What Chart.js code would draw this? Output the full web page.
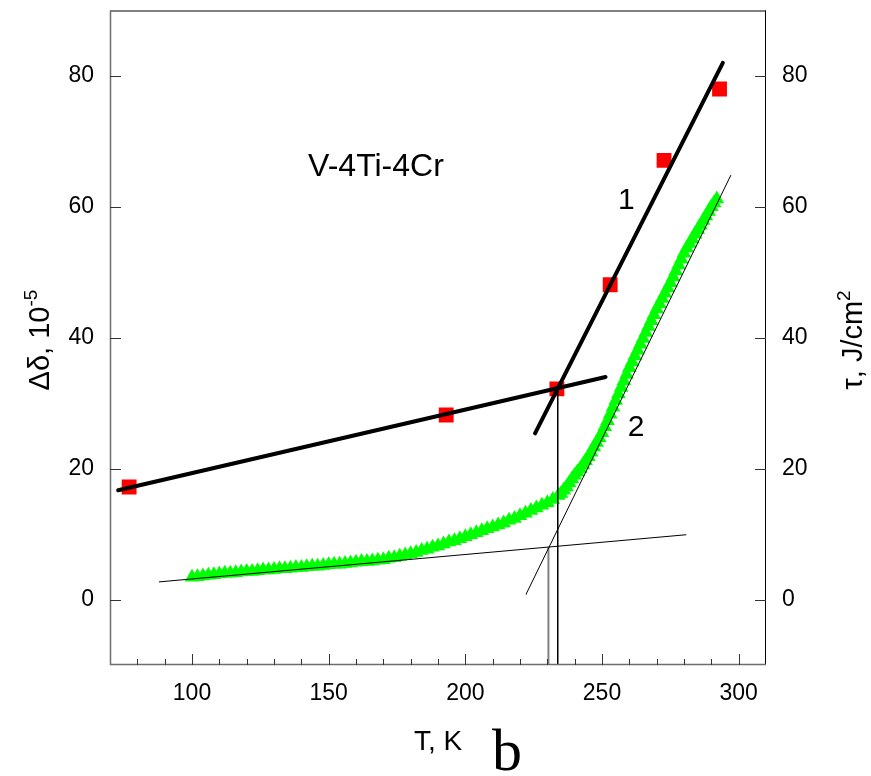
<!DOCTYPE html>
<html>
<head>
<meta charset="utf-8">
<script src="https://cdn.jsdelivr.net/npm/chart.js@4.4.0/dist/chart.umd.min.js"></script>
<style>
  html, body { margin: 0; padding: 0; background: #fff; }
</style>
</head>
<body>
<canvas id="myChart" width="871" height="776"></canvas>
<script>
// axis ticks
const xTicks = [100, 150, 200, 250, 300];
const yTicks = [0, 20, 40, 60, 80];

// red squares: delta-delta (10^-5) vs T
const sqT = [77, 193, 233.5, 253, 272.7, 293];
const sqD = [17.2, 28.2, 32.2, 48.1, 67.1, 78.0];

// green triangles: tau (J/cm2) vs T
const triT = [100,102,104,106,108,110,112,114,116,118,120,122,124,126,128,130,132,134,136,138,
  140,142,144,146,148,150,152,154,156,158,160,162,164,166,168,170,172,174,176,178,
  180,182,184,186,188,190,192,194,196,198,200,202,204,206,208,210,212,214,216,218,
  220,222,224,226,228,230,232,234,235,236,237,238,239,240,241,242,243,244,245,246,
  247,248,249,250,251,252,253,254,255,256,257,258,259,260,261,262,263,264,265,266,
  267,268,269,270,271,272,273,274,275,276,277,278,279,280,281,282,283,284,285,286,
  287,288,289,290,291,292];
const triTau = [3.4,3.5,3.6,3.7,3.8,3.9,4.0,4.0,4.1,4.2,4.3,4.3,4.4,4.5,4.5,4.6,4.7,4.7,4.8,4.9,
  4.9,5.0,5.1,5.1,5.2,5.3,5.4,5.4,5.5,5.6,5.7,5.8,5.8,5.9,6.0,6.1,6.3,6.4,6.6,6.8,
  7.0,7.2,7.5,7.7,8.0,8.2,8.5,8.8,9.0,9.3,9.6,9.9,10.2,10.5,10.8,11.1,11.4,11.7,12.1,12.4,
  12.8,13.2,13.6,14.0,14.4,14.8,15.3,15.9,16.2,16.7,17.2,17.8,18.4,19.0,19.5,20.0,20.6,21.2,21.8,22.5,
  23.3,24.0,24.7,25.5,26.4,27.3,28.3,29.4,30.4,31.4,32.4,33.4,34.4,35.4,36.3,37.2,38.1,39.0,39.9,40.8,
  41.7,42.6,43.5,44.4,45.2,46.0,46.8,47.6,48.4,49.3,50.2,51.1,52.0,52.9,53.7,54.4,55.1,55.8,56.5,57.2,
  57.9,58.6,59.3,60.0,60.6,61.2];

// fitted lines (end points)
const lowFitT = [73, 251.3];   const lowFitD = [16.7, 34.0];
const highFitT = [225.5, 294.2]; const highFitD = [25.4, 82.0];
const tauLowT = [88, 280.7];   const tauLowV = [2.7, 9.9];
const tauHighT = [222.2, 297.1]; const tauHighV = [0.8, 64.8];
// vertical markers
const vBlackT = [233.8, 233.8]; const vBlackV = [32.2, -10];
const vGrayT = [230.4, 230.4];  const vGrayV = [7.9, -10];

const toPts = (xs, ys) => xs.map((x, i) => ({x: x, y: ys[i]}));

const lineDs = (xs, ys, w, color) => ({
    data: toPts(xs, ys),
    showLine: true,
    borderColor: color,
    borderWidth: w,
    pointRadius: 0,
    borderCapStyle: 'round',
    order: 0
});

// axis titles, frame, inward tick marks, labels
const decor = {
    id: 'decor',
    afterDraw(chart) {
        const {ctx, chartArea: a, scales} = chart;
        const xs = scales.x, ys = scales.y;
        ctx.save();

        const seg = (x1, y1, x2, y2) => {
            ctx.beginPath(); ctx.moveTo(x1, y1); ctx.lineTo(x2, y2); ctx.stroke();
        };

        // frame
        ctx.lineWidth = 1;
        ctx.strokeStyle = '#000';
        seg(a.left, a.top + 0.5, a.right, a.top + 0.5);
        seg(a.right - 0.5, a.top, a.right - 0.5, a.bottom);
        ctx.strokeStyle = '#6e6e6e';
        ctx.lineWidth = 1.5;
        seg(a.left + 0.5, a.top, a.left + 0.5, a.bottom);
        seg(a.left, a.bottom - 0.5, a.right, a.bottom - 0.5);

        // x ticks (minor every 10, major every 50)
        ctx.strokeStyle = '#333';
        ctx.lineWidth = 1;
        for (let v = 80; v <= 300; v += 10) {
            const px = Math.round(xs.getPixelForValue(v)) + 0.5;
            const len = xTicks.includes(v) ? 11 : 6;
            seg(px, a.bottom, px, a.bottom - len);
        }
        // y ticks both sides
        yTicks.forEach(v => {
            const py = Math.round(ys.getPixelForValue(v)) + 0.5;
            seg(a.left, py, a.left + 11, py);
            seg(a.right, py, a.right - 11, py);
        });

        // text
        ctx.fillStyle = '#000';
        const supText = (base, sup, cx, cy, size, rot) => {
            ctx.save();
            ctx.translate(cx, cy);
            if (rot) ctx.rotate(-Math.PI / 2);
            ctx.font = size + 'px Arial, "Liberation Sans"';
            const w1 = ctx.measureText(base).width;
            const sSize = Math.round(size * 0.65);
            ctx.font = sSize + 'px Arial, "Liberation Sans"';
            const w2 = ctx.measureText(sup).width;
            const x0 = -(w1 + w2) / 2;
            ctx.textAlign = 'left';
            ctx.textBaseline = 'alphabetic';
            ctx.font = size + 'px Arial, "Liberation Sans"';
            ctx.fillText(base, x0, size * 0.36);
            ctx.font = sSize + 'px Arial, "Liberation Sans"';
            ctx.fillText(sup, x0 + w1, size * 0.36 - size * 0.42);
            ctx.restore();
        };
        supText('\u0394\u03b4, 10', '-5', 39, 340, 29, true);
        supText('\u03c4, J/cm', '2', 852, 340, 29, true);

        ctx.textAlign = 'center';
        ctx.textBaseline = 'middle';
        ctx.font = '28px Arial, "Liberation Sans"';
        ctx.fillText('T, K', 438, 742);
        ctx.font = '60px "Liberation Serif", "Times New Roman", serif';
        ctx.textBaseline = 'alphabetic';
        ctx.fillText('b', 507, 770);

        ctx.textBaseline = 'middle';
        ctx.font = '32px Arial, "Liberation Sans"';
        ctx.fillText('V-4Ti-4Cr', xs.getPixelForValue(167.3), ys.getPixelForValue(66));
        ctx.font = '30px Arial, "Liberation Sans"';
        ctx.fillText('1', xs.getPixelForValue(258.9), ys.getPixelForValue(61));
        ctx.fillText('2', xs.getPixelForValue(262.5), ys.getPixelForValue(26.3));
        ctx.restore();
    }
};

const tickFont = {family: 'Arial, "Liberation Sans"', size: 23};

const noPad = s => { s.paddingTop = 0; s.paddingBottom = 0; s.paddingLeft = 0; s.paddingRight = 0; };

new Chart('myChart', {
    type: 'scatter',
    data: {
        datasets: [
            lineDs(lowFitT, lowFitD, 4, '#000'),
            lineDs(highFitT, highFitD, 4, '#000'),
            lineDs(tauLowT, tauLowV, 1, '#000'),
            lineDs(tauHighT, tauHighV, 1, '#000'),
            lineDs(vBlackT, vBlackV, 1, '#000'),
            lineDs(vGrayT, vGrayV, 2, '#808080'),
            {
                data: toPts(sqT, sqD),
                pointStyle: 'rect',
                pointRadius: 10.5,
                backgroundColor: '#ff0000',
                borderWidth: 0,
                order: 1
            },
            {
                data: toPts(triT, triTau),
                yAxisID: 'y2',
                pointStyle: 'triangle',
                pointRadius: 8.5,
                backgroundColor: '#00ff00',
                borderWidth: 0,
                order: 2
            }
        ]
    },
    options: {
        responsive: false,
        animation: false,
        layout: {padding: {top: 8}},
        plugins: {legend: {display: false}, tooltip: {enabled: false}},
        scales: {
            x: {
                type: 'linear', position: 'bottom', min: 70, max: 310,
                grid: {display: false, drawTicks: false},
                border: {display: false},
                afterBuildTicks: s => { s.ticks = xTicks.map(v => ({value: v})); },
                afterFit: s => { s.height = 111; noPad(s); },
                ticks: {font: tickFont, color: '#000', padding: 15, maxRotation: 0}
            },
            y: {
                type: 'linear', position: 'left', min: -10, max: 90,
                grid: {display: false, drawTicks: false},
                border: {display: false},
                afterBuildTicks: s => { s.ticks = yTicks.map(v => ({value: v})); },
                afterFit: s => { s.width = 110; noPad(s); },
                ticks: {font: tickFont, color: '#000', padding: 16}
            },
            y2: {
                type: 'linear', position: 'right', min: -10, max: 90,
                grid: {display: false, drawTicks: false},
                border: {display: false},
                afterBuildTicks: s => { s.ticks = yTicks.map(v => ({value: v})); },
                afterFit: s => { s.width = 105; noPad(s); },
                ticks: {font: tickFont, color: '#000', padding: 16}
            }
        }
    },
    plugins: [decor]
});
</script>
</body>
</html>
